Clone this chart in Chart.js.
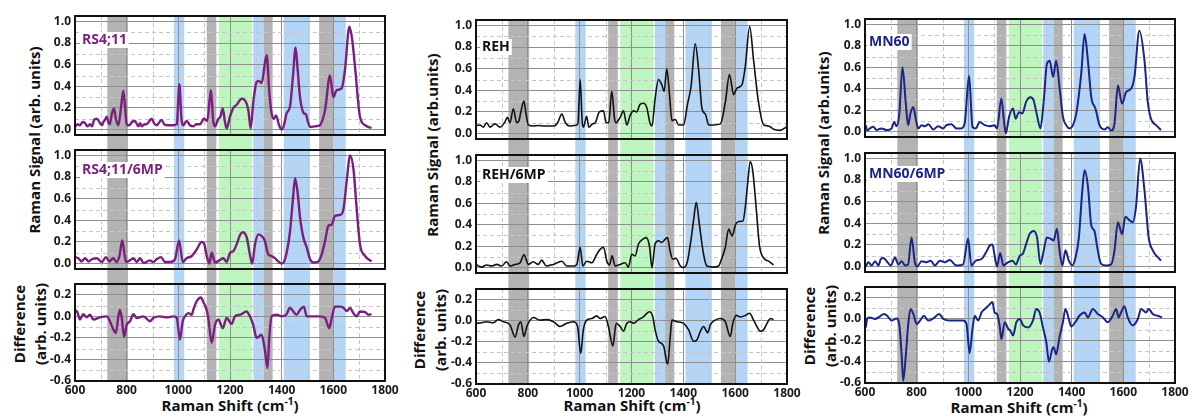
<!DOCTYPE html>
<html><head><meta charset="utf-8">
<script src="https://cdn.jsdelivr.net/npm/chart.js@4/dist/chart.umd.min.js"></script>
<style>
html,body{margin:0;padding:0;background:#fff}
body{width:1193px;height:418px;overflow:hidden;position:relative;font-family:'Open Sans',sans-serif}
canvas{position:absolute}
.t{position:absolute;white-space:nowrap;font-weight:700;color:#111;font-size:15px;line-height:1}
.rot{transform:translate(-50%,-50%) rotate(-90deg)}
.ctr{transform:translate(-50%,-50%)}
sup{font-size:10px;vertical-align:6px;line-height:0}
</style></head><body>
<div class="t rot" style="left:34px;top:140px">Raman Signal (arb. units)</div>
<div class="t rot" style="left:432px;top:145px">Raman Signal (arb.units)</div>
<div class="t rot" style="left:823px;top:143px">Raman Signal (arb.units)</div>
<div class="t rot" style="left:30px;top:324px;text-align:center;line-height:21px">Difference<br>(arb. units)</div>
<div class="t rot" style="left:430px;top:330px;text-align:center;line-height:21px">Difference<br>(arb. units)</div>
<div class="t rot" style="left:820px;top:326px;text-align:center;line-height:21px">Difference<br>(arb. units)</div>
<div class="t ctr" style="left:230px;top:405px">Raman Shift (cm<sup>-1</sup>)</div>
<div class="t ctr" style="left:632px;top:405px">Raman Shift (cm<sup>-1</sup>)</div>
<div class="t ctr" style="left:1019px;top:407px">Raman Shift (cm<sup>-1</sup>)</div>
<script>
// ---------- axis ticks ----------
const xTicks = [600, 800, 1000, 1200, 1400, 1600, 1800];
const xMinor = [700, 900, 1100, 1300, 1500, 1700];
const ySignalTicks = [0, 0.2, 0.4, 0.6, 0.8, 1.0];
const ySignalMinor = [0.1, 0.3, 0.5, 0.7, 0.9];
const yDiffTicks = [-0.6, -0.4, -0.2, 0, 0.2];
const yDiffMinor = [-0.5, -0.3, -0.1, 0.1];

// ---------- highlighted bands (cm-1) ----------
const grayBands = [[725, 805], [1110, 1147], [1330, 1365], [1545, 1600]];
const blueBands = [[983, 1023], [1290, 1330], [1408, 1510], [1600, 1648]];
const greenBands = [[1157, 1285]];

// ---------- panel labels ----------
const labelsCol1 = ['RS4;11', 'RS4;11/6MP'];
const labelsCol2 = ['REH', 'REH/6MP'];
const labelsCol3 = ['MN60', 'MN60/6MP'];

// ---------- spectra [shift, value] ----------
const rs411 = [[600,0.025],[610,0.05],[619,0.04],[630,0.07],[639,0.06],[648,0.03],[658,0.05],[666,0.03],[674,0.09],[684,0.1],[697,0.06],[705,0.04],[710,0.07],[716,0.09],[723,0.12],[730,0.06],[735,0.05],[743,0.15],[751,0.195],[758,0.1],[768,0.04],[778,0.2],[787,0.36],[794,0.2],[800,0.05],[810,0.04],[820,0.07],[832,0.08],[845,0.03],[852,0.06],[858,0.03],[870,0.05],[877,0.05],[897,0.1],[906,0.06],[916,0.04],[935,0.09],[945,0.05],[955,0.04],[981,0.04],[994,0.05],[1004,0.42],[1012,0.1],[1019,0.04],[1032,0.08],[1045,0.04],[1058,0.03],[1070,0.05],[1084,0.05],[1099,0.1],[1112,0.08],[1126,0.365],[1135,0.08],[1142,0.03],[1155,0.1],[1163,0.12],[1172,0.195],[1180,0.08],[1187,0.01],[1200,0.12],[1213,0.2],[1226,0.23],[1245,0.285],[1258,0.27],[1271,0.18],[1280,0.01],[1290,0.25],[1303,0.44],[1312,0.45],[1322,0.43],[1342,0.69],[1352,0.35],[1361,0.15],[1370,0.1],[1378,0.13],[1390,0.04],[1400,0.0],[1410,0.05],[1419,0.15],[1432,0.21],[1444,0.5],[1454,0.76],[1462,0.55],[1471,0.3],[1486,0.15],[1494,0.14],[1502,0.07],[1510,0.025],[1529,0.03],[1548,0.04],[1558,0.09],[1568,0.18],[1587,0.5],[1600,0.3],[1613,0.365],[1632,0.38],[1645,0.55],[1662,0.95],[1672,0.85],[1684,0.58],[1703,0.12],[1723,0.04],[1748,0.015]];
const rs411mp = [[600,0.06],[613,0.05],[626,0.02],[639,0.05],[652,0.02],[665,0.04],[684,0.05],[703,0.015],[720,0.06],[733,0.02],[748,0.05],[761,0.015],[772,0.07],[783,0.215],[797,0.015],[819,0.04],[826,0.05],[839,0.015],[852,0.05],[865,0.005],[890,0.03],[903,0.015],[916,0.04],[933,0.06],[948,0.015],[968,0.015],[987,0.04],[1003,0.215],[1017,0.015],[1032,0.05],[1052,0.07],[1071,0.13],[1090,0.2],[1099,0.19],[1110,0.07],[1120,0.0],[1129,0.1],[1142,0.01],[1159,0.03],[1174,0.05],[1187,0.015],[1200,0.1],[1213,0.115],[1226,0.18],[1239,0.265],[1249,0.29],[1265,0.24],[1277,0.085],[1286,0.0],[1297,0.18],[1310,0.27],[1322,0.255],[1335,0.21],[1348,0.085],[1361,0.07],[1374,0.05],[1387,0.02],[1400,0.0],[1413,0.04],[1432,0.29],[1443,0.58],[1452,0.79],[1462,0.65],[1471,0.43],[1484,0.24],[1497,0.15],[1510,0.04],[1523,0.01],[1542,0.02],[1555,0.085],[1568,0.21],[1581,0.35],[1594,0.36],[1606,0.44],[1626,0.45],[1639,0.5],[1652,0.77],[1665,1.0],[1678,0.87],[1690,0.52],[1703,0.18],[1723,0.07],[1748,0.02]];
const rs411diff = [[600,0.06],[609,0.04],[619,-0.03],[632,0.02],[645,-0.01],[658,0.015],[671,-0.03],[697,-0.01],[723,0.0],[735,-0.045],[748,-0.12],[758,-0.155],[768,0.0],[774,0.06],[781,-0.015],[790,-0.19],[800,-0.08],[813,-0.045],[826,0.02],[839,-0.015],[865,0.0],[890,-0.045],[903,-0.015],[929,0.0],[955,-0.01],[981,0.0],[994,-0.015],[1006,-0.215],[1017,-0.045],[1026,0.0],[1039,0.03],[1052,0.015],[1058,0.06],[1071,0.14],[1088,0.175],[1097,0.13],[1107,0.08],[1116,-0.015],[1129,-0.245],[1142,-0.08],[1155,-0.03],[1172,-0.11],[1187,-0.015],[1206,-0.07],[1219,0.0],[1239,0.015],[1264,0.045],[1277,0.0],[1290,-0.08],[1303,-0.2],[1322,-0.17],[1335,-0.31],[1345,-0.48],[1352,-0.2],[1361,0.0],[1381,0.015],[1400,0.0],[1419,0.02],[1432,0.08],[1445,0.045],[1458,0.015],[1471,0.06],[1486,0.09],[1497,0.0],[1523,0.0],[1548,0.0],[1568,-0.015],[1584,-0.11],[1594,-0.015],[1606,0.09],[1626,0.09],[1639,0.08],[1652,0.05],[1665,0.077],[1677,0.03],[1690,0.0],[1703,0.045],[1723,0.04],[1735,0.015],[1748,0.02]];

const reh = [[603,0.075],[615,0.08],[628,0.06],[641,0.1],[654,0.06],[673,0.09],[693,0.06],[712,0.11],[721,0.15],[731,0.1],[744,0.23],[757,0.1],[766,0.12],[773,0.2],[785,0.3],[793,0.18],[802,0.08],[820,0.07],[840,0.075],[860,0.07],[880,0.07],[900,0.07],[915,0.1],[931,0.18],[945,0.1],[960,0.07],[980,0.075],[993,0.09],[1002,0.5],[1010,0.1],[1015,0.06],[1027,0.16],[1035,0.06],[1050,0.09],[1060,0.1],[1076,0.2],[1092,0.21],[1102,0.1],[1112,0.1],[1124,0.39],[1134,0.15],[1140,0.1],[1156,0.15],[1169,0.21],[1182,0.08],[1195,0.17],[1208,0.21],[1220,0.2],[1233,0.27],[1246,0.28],[1259,0.24],[1272,0.09],[1279,0.07],[1291,0.32],[1304,0.5],[1317,0.45],[1326,0.39],[1336,0.6],[1346,0.38],[1356,0.12],[1369,0.13],[1382,0.08],[1401,0.08],[1416,0.27],[1430,0.44],[1446,0.83],[1459,0.59],[1472,0.23],[1485,0.18],[1498,0.08],[1517,0.08],[1543,0.09],[1562,0.29],[1578,0.545],[1594,0.36],[1607,0.42],[1626,0.45],[1639,0.62],[1656,0.99],[1671,0.68],[1690,0.29],[1710,0.08],[1729,0.07],[1748,0.04],[1774,0.03],[1797,0.06]];
const rehmp = [[603,0.025],[622,0.005],[641,0.025],[660,0.015],[680,0.03],[699,0.015],[718,0.055],[731,0.015],[750,0.03],[770,0.045],[785,0.12],[802,0.03],[821,0.055],[840,0.03],[853,0.07],[872,0.015],[898,0.03],[931,0.06],[950,0.015],[976,0.015],[989,0.03],[1002,0.19],[1012,0.015],[1027,0.06],[1047,0.045],[1066,0.125],[1079,0.17],[1092,0.19],[1105,0.06],[1115,0.025],[1125,0.11],[1137,0.015],[1156,0.03],[1175,0.045],[1188,0.005],[1201,0.125],[1214,0.11],[1227,0.22],[1244,0.265],[1257,0.28],[1270,0.19],[1279,0.0],[1291,0.22],[1304,0.25],[1317,0.235],[1330,0.265],[1339,0.28],[1349,0.155],[1359,0.08],[1372,0.087],[1388,0.015],[1401,0.0],[1416,0.06],[1429,0.25],[1440,0.45],[1450,0.61],[1462,0.4],[1478,0.125],[1491,0.015],[1517,0.005],[1536,0.015],[1549,0.09],[1562,0.19],[1575,0.36],[1588,0.295],[1601,0.4],[1614,0.43],[1630,0.435],[1639,0.56],[1648,0.78],[1658,0.99],[1668,0.9],[1681,0.56],[1694,0.2],[1710,0.09],[1729,0.06],[1748,0.025]];
const rehdiff = [[603,-0.025],[622,-0.02],[641,-0.01],[667,-0.02],[686,0.01],[705,-0.01],[731,-0.04],[751,-0.155],[764,-0.04],[773,-0.01],[785,-0.15],[796,-0.055],[809,0.005],[821,0.03],[847,0.005],[873,0.01],[899,-0.01],[924,-0.055],[950,-0.025],[976,-0.01],[992,-0.055],[1004,-0.31],[1014,-0.09],[1027,0.005],[1047,0.02],[1066,0.045],[1079,0.02],[1098,0.04],[1111,-0.055],[1128,-0.24],[1141,-0.025],[1156,-0.055],[1169,-0.1],[1182,-0.025],[1195,-0.01],[1208,-0.025],[1227,0.01],[1246,0.035],[1259,0.07],[1269,0.085],[1282,0.04],[1291,-0.085],[1304,-0.195],[1324,-0.24],[1336,-0.395],[1340,-0.41],[1349,-0.165],[1356,0.005],[1375,-0.01],[1401,-0.025],[1420,-0.085],[1440,-0.195],[1453,-0.18],[1466,-0.1],[1478,-0.055],[1494,-0.115],[1504,-0.04],[1523,0.005],[1543,0.02],[1562,-0.01],[1581,-0.15],[1591,-0.025],[1604,0.05],[1620,0.035],[1639,0.05],[1656,0.07],[1671,0.005],[1684,-0.055],[1697,-0.1],[1710,-0.085],[1723,-0.025],[1736,0.02],[1748,0.01]];

const mn60 = [[603,0.06],[609,0.01],[619,0.03],[632,0.045],[645,0.015],[664,0.03],[684,0.015],[703,0.03],[713,0.09],[722,0.05],[733,0.17],[745,0.6],[758,0.26],[767,0.06],[776,0.17],[787,0.23],[797,0.11],[806,0.03],[819,0.06],[832,0.05],[845,0.07],[864,0.02],[883,0.05],[903,0.03],[915,0.06],[935,0.07],[954,0.03],[973,0.03],[986,0.08],[1003,0.52],[1016,0.045],[1029,0.03],[1044,0.09],[1064,0.06],[1083,0.05],[1102,0.06],[1111,0.03],[1128,0.31],[1138,0.1],[1145,-0.015],[1158,0.14],[1173,0.215],[1183,0.12],[1196,0.18],[1209,0.17],[1224,0.28],[1240,0.32],[1253,0.29],[1266,0.15],[1279,0.03],[1292,0.29],[1304,0.63],[1315,0.66],[1328,0.51],[1340,0.66],[1353,0.415],[1366,0.14],[1379,0.06],[1392,0.03],[1405,0.06],[1418,0.17],[1437,0.54],[1450,0.91],[1463,0.66],[1476,0.32],[1492,0.215],[1508,0.06],[1527,0.02],[1540,0.04],[1553,0.01],[1566,0.08],[1579,0.43],[1595,0.26],[1611,0.37],[1630,0.4],[1643,0.51],[1662,0.94],[1682,0.66],[1694,0.29],[1707,0.12],[1727,0.06],[1746,0.015]];
const mn60mp = [[603,0.0],[613,0.04],[626,0.01],[639,0.05],[652,0.01],[661,0.07],[671,0.08],[684,0.05],[700,0.01],[716,0.085],[729,0.02],[742,0.05],[755,0.01],[767,0.02],[780,0.27],[793,0.04],[802,0.0],[819,0.05],[838,0.04],[854,0.055],[870,0.01],[890,0.055],[909,0.04],[928,0.06],[954,0.01],[980,0.02],[999,0.26],[1012,0.01],[1029,0.055],[1051,0.07],[1068,0.13],[1083,0.195],[1093,0.205],[1102,0.1],[1111,0.0],[1123,0.125],[1136,0.01],[1153,0.04],[1171,0.055],[1184,0.02],[1199,0.1],[1211,0.12],[1224,0.21],[1237,0.3],[1253,0.33],[1266,0.27],[1279,0.025],[1292,0.15],[1304,0.27],[1321,0.255],[1330,0.24],[1343,0.35],[1353,0.15],[1364,0.01],[1376,0.15],[1389,0.055],[1402,0.01],[1415,0.085],[1428,0.27],[1441,0.7],[1450,0.89],[1463,0.74],[1476,0.38],[1488,0.33],[1501,0.15],[1514,0.025],[1533,0.01],[1553,0.02],[1566,0.15],[1579,0.41],[1595,0.3],[1608,0.46],[1623,0.43],[1636,0.41],[1649,0.55],[1665,1.0],[1682,0.7],[1698,0.27],[1714,0.15],[1733,0.087],[1746,0.055]];
const mn60diff = [[603,-0.08],[609,0.005],[619,0.015],[638,0.0],[658,0.025],[673,0.047],[686,0.03],[703,-0.015],[722,0.005],[733,-0.06],[742,-0.34],[748,-0.58],[758,-0.34],[767,-0.06],[776,0.094],[787,0.047],[800,-0.047],[813,-0.015],[828,0.03],[845,-0.015],[864,0.005],[887,0.047],[903,0.0],[928,-0.015],[954,-0.015],[980,-0.015],[993,-0.047],[1005,-0.32],[1016,-0.094],[1025,0.03],[1038,-0.015],[1051,0.06],[1064,0.094],[1080,0.13],[1093,0.16],[1102,0.06],[1111,0.047],[1121,-0.06],[1128,-0.19],[1141,-0.03],[1154,-0.09],[1163,-0.11],[1173,-0.155],[1186,-0.03],[1199,0.0],[1212,-0.06],[1231,-0.08],[1250,-0.015],[1263,0.094],[1276,0.06],[1289,-0.08],[1302,-0.22],[1312,-0.4],[1325,-0.28],[1330,-0.265],[1340,-0.33],[1353,-0.17],[1366,-0.03],[1376,0.094],[1389,0.0],[1398,-0.07],[1414,-0.03],[1430,0.03],[1450,0.06],[1463,0.015],[1482,0.094],[1501,0.047],[1521,0.015],[1540,-0.03],[1559,0.03],[1572,0.094],[1582,0.015],[1591,0.06],[1604,0.12],[1617,0.015],[1636,-0.06],[1656,0.0],[1669,0.094],[1688,0.06],[1698,0.094],[1714,0.047],[1733,0.03],[1750,0.015]];

// ---------- layout / style ----------
const FONT = "'Open Sans', sans-serif";
const columns = [
  {left:5, width:400, plotL:75, plotR:385, panels:[[16,135],[150,269],[284,381]], color:'#7b1f7e', lw:2.4, labels:labelsCol1, labelDx:5, labelDy:[16,12], series:[rs411, rs411mp, rs411diff]},
  {left:406, width:401, plotL:476, plotR:787, panels:[[20,139],[155,273],[289,384]], color:'#111111', lw:1.6, labels:labelsCol2, labelDx:4, labelDy:[19,12], series:[reh, rehmp, rehdiff]},
  {left:795, width:400, plotL:865, plotR:1175, panels:[[19,137],[153,272],[287,383]], color:'#1b2585', lw:2.0, labels:labelsCol3, labelDx:2, labelDy:[15,13], series:[mn60, mn60mp, mn60diff]}
];
const Y_AXIS_W = 40;
const PAD_TOP = 10;

const bandPlugin = {
  id: 'bands',
  beforeDraw(chart, args, o) {
    const {ctx, chartArea: a, scales: {x}} = chart;
    const top = o.extendTop ? 0 : a.top;
    const bottom = o.extendBottom ? chart.height : a.bottom;
    ctx.save();
    const draw = (list, color) => {
      ctx.fillStyle = color;
      for (const [s, e] of list) {
        const x1 = x.getPixelForValue(s), x2 = x.getPixelForValue(e);
        ctx.fillRect(x1, top, x2 - x1, bottom - top);
      }
    };
    draw(greenBands, '#bff5bf');
    draw(blueBands, '#b4d5f6');
    draw(grayBands, '#b3b3b3');
    ctx.restore();
  }
};
const minorPlugin = {
  id: 'minorGrid',
  beforeDatasetsDraw(chart, args, o) {
    const {ctx, chartArea: a, scales: {x, y}} = chart;
    ctx.save();
    ctx.strokeStyle = '#c6c6c6';
    ctx.lineWidth = 1;
    ctx.setLineDash([4, 3]);
    ctx.beginPath();
    for (const v of xMinor) { const p = Math.round(x.getPixelForValue(v)) + 0.5; ctx.moveTo(p, a.top); ctx.lineTo(p, a.bottom); }
    for (const v of (o.diff ? yDiffMinor : ySignalMinor)) { const p = Math.round(y.getPixelForValue(v)) + 0.5; ctx.moveTo(a.left, p); ctx.lineTo(a.right, p); }
    ctx.stroke();
    ctx.restore();
  }
};
const framePlugin = {
  id: 'frame',
  afterDatasetsDraw(chart, args, o) {
    const {ctx, chartArea: a} = chart;
    ctx.save();
    if (o.text) {
      ctx.font = "700 14px " + FONT;
      const w = ctx.measureText(o.text).width;
      const x0 = a.left + o.dx, y0 = a.top + o.dy;
      ctx.fillStyle = '#ffffff';
      ctx.fillRect(x0, y0, w + 4, 16);
      ctx.fillStyle = o.color;
      ctx.textBaseline = 'middle';
      ctx.fillText(o.text, x0 + 2, y0 + 8.5);
    }
    ctx.strokeStyle = '#111';
    ctx.lineWidth = 2;
    ctx.strokeRect(a.left, a.top, a.width, a.height);
    ctx.restore();
  }
};

function makePanel(col, pi) {
  const [t, b] = col.panels[pi];
  const isDiff = pi === 2;
  const top = t - PAD_TOP;
  const h = pi < 2 ? col.panels[pi + 1][0] - t : 418 - top;
  const xH = isDiff ? 22 : 0;
  const canvas = document.createElement('canvas');
  canvas.width = col.width; canvas.height = h;
  canvas.style.left = col.left + 'px'; canvas.style.top = top + 'px';
  document.body.appendChild(canvas);
  const tickFont = {family: FONT, size: 12, weight: '700', lineHeight: 1.2};
  new Chart(canvas, {
    type: 'line',
    data: {datasets: [{
      data: col.series[pi].map(([x, y]) => ({x, y})),
      borderColor: col.color, borderWidth: col.lw, pointRadius: 0,
      cubicInterpolationMode: 'monotone', fill: false, borderJoinStyle: 'round'
    }]},
    options: {
      responsive: false, animation: false, events: [],
      layout: {padding: {left: col.plotL - col.left - Y_AXIS_W, right: col.left + col.width - col.plotR, top: PAD_TOP, bottom: h - PAD_TOP - (b - t) - xH}},
      plugins: {
        legend: {display: false}, tooltip: {enabled: false},
        bands: {extendTop: pi > 0, extendBottom: pi < 2},
        minorGrid: {diff: isDiff},
        frame: {text: isDiff ? '' : col.labels[pi], color: col.color, dx: col.labelDx, dy: isDiff ? 0 : col.labelDy[pi]}
      },
      scales: {
        x: {
          type: 'linear', min: 600, max: 1800,
          afterBuildTicks(s) { s.ticks = xTicks.map(v => ({value: v})); },
          afterFit(s) { s.height = xH; s.paddingLeft = 0; s.paddingRight = 0; },
          ticks: {display: isDiff, autoSkip: false, maxRotation: 0, padding: 2, font: tickFont, color: '#1a1a1a', callback: v => String(v)},
          grid: {color: '#8f8f8f', lineWidth: 1, drawTicks: false},
          border: {display: false}
        },
        y: {
          type: 'linear', min: isDiff ? -0.6 : -0.05, max: isDiff ? 0.3 : 1.05,
          afterBuildTicks(s) { s.ticks = (isDiff ? yDiffTicks : ySignalTicks).map(v => ({value: v})); },
          afterFit(s) { s.width = Y_AXIS_W; s.paddingTop = 0; s.paddingBottom = 0; },
          ticks: {padding: 4, font: tickFont, color: '#1a1a1a', callback: v => Number(v).toFixed(1)},
          grid: {color: '#8f8f8f', lineWidth: 1, drawTicks: false},
          border: {display: false}
        }
      }
    },
    plugins: [bandPlugin, minorPlugin, framePlugin]
  });
}
for (const col of columns) for (let i = 0; i < 3; i++) makePanel(col, i);
</script>
</body></html>
